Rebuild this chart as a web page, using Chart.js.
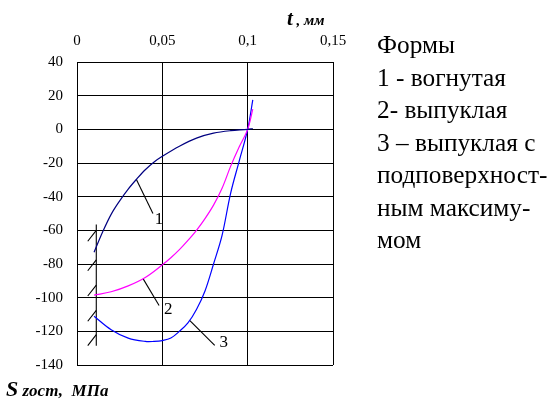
<!DOCTYPE html>
<html lang="ru">
<head>
<meta charset="utf-8">
<script src="https://cdn.jsdelivr.net/npm/chart.js@4.4.1/dist/chart.umd.min.js"></script>
<style>
  body { margin: 0; background: #fff; }
  #wrap { position: relative; width: 552px; height: 401px; font-family: "Liberation Serif", "Times New Roman", Times, serif; color: #000; }
  #chart { position: absolute; left: 0; top: 0; }
  .ttl { position: absolute; font-weight: bold; font-style: italic; white-space: nowrap; line-height: 20px; }
  #legendText { position: absolute; left: 377px; top: 28px; font-size: 25.3px; line-height: 32.5px; }
</style>
</head>
<body>
<div id="wrap">
  <canvas id="chart" width="552" height="401"></canvas>
  <div class="ttl" style="left:287px; top:8px; font-size:21px;">t<span style="font-size:15px;"> , мм</span></div>
  <div class="ttl" style="left:6px; top:379px; font-size:22px;">S<span style="font-size:17px;"> zост,&nbsp; МПа</span></div>
  <div id="legendText">
    Формы<br>
    1 - вогнутая<br>
    2- выпуклая<br>
    3 – выпуклая с<br>
    подповерхност-<br>
    ным максиму-<br>
    мом
  </div>
</div>
<script>
// ====== данные (t, мм ; S ост, МПа) ======
const xTicks = [0, 0.05, 0.1, 0.15];
const yTicks = [40, 20, 0, -20, -40, -60, -80, -100, -120, -140];

// 1 - вогнутая
const t1 = [0.01, 0.015, 0.02, 0.025, 0.03, 0.035, 0.04, 0.045, 0.05, 0.06, 0.07, 0.08, 0.09, 0.1, 0.103];
const s1 = [-73, -61, -50.5, -42.5, -35.5, -29.5, -24, -19.5, -16, -10, -5.2, -2.3, -0.8, 0, 0.5];

// 2 - выпуклая
const t2 = [0.01, 0.02, 0.03, 0.04, 0.05, 0.055, 0.06, 0.065, 0.07, 0.075, 0.08, 0.085, 0.09, 0.095, 0.1, 0.103];
const s2 = [-98.5, -96.5, -93, -88, -80.5, -76.3, -71.5, -66, -60, -53, -45, -35, -22, -10.5, 0, 12];

// 3 - выпуклая с подповерхностным максимумом
const t3 = [0.01, 0.02, 0.03, 0.04, 0.045, 0.05, 0.055, 0.06, 0.065, 0.07, 0.075, 0.08, 0.085, 0.09, 0.095, 0.1, 0.103];
const s3 = [-111, -119, -124, -126, -126, -125.5, -124, -120, -115, -107, -96, -80, -63, -38, -19, 0, 17.5];

// выноски к кривым
const leaders = [
  { label: "1", from: [0.0348, -29.8], to: [0.0445, -50], text: [0.048, -53.5] },
  { label: "2", from: [0.0387, -88.7], to: [0.0481, -104.6], text: [0.0535, -107] },
  { label: "3", from: [0.066, -113.5], to: [0.0807, -128.4], text: [0.086, -126.6] }
];

// штриховка (поверхность образца)
const wallT = 0.0113;
const wallS = [-56.5, -128.5];
const hatchT = 0.0063;
const hatchS = [-66.5, -84, -99, -114, -128.5];
const hatchRise = 6.5;

const toPts = (xs, ys) => xs.map((x, i) => ({ x: x, y: ys[i] }));

const hatchPts = [];
hatchS.forEach(s => {
  hatchPts.push({ x: hatchT, y: s }, { x: wallT, y: s + hatchRise }, { x: wallT, y: null });
});

const curve = (pts, color) => ({
  data: pts, borderColor: color, borderWidth: 1.2, showLine: true,
  pointRadius: 0, tension: 0.35, fill: false
});
const blackLine = (pts) => ({
  data: pts, borderColor: "#000", borderWidth: 1.1, showLine: true,
  pointRadius: 0, tension: 0, fill: false, spanGaps: false
});

const datasets = [
  curve(toPts(t1, s1), "#000080"),
  curve(toPts(t2, s2), "#ff00ff"),
  curve(toPts(t3, s3), "#0000ff"),
  blackLine([{ x: wallT, y: wallS[0] }, { x: wallT, y: wallS[1] }]),
  blackLine(hatchPts)
];
leaders.forEach(l => {
  datasets.push(blackLine([{ x: l.from[0], y: l.from[1] }, { x: l.to[0], y: l.to[1] }]));
});

// подписи 1, 2, 3 у выносок
const leaderLabels = {
  id: "leaderLabels",
  afterDatasetsDraw(chart) {
    const { ctx, scales } = chart;
    ctx.save();
    ctx.font = "17px 'Liberation Serif', 'Times New Roman', serif";
    ctx.fillStyle = "#000";
    ctx.textAlign = "center";
    ctx.textBaseline = "middle";
    leaders.forEach(l => {
      ctx.fillText(l.label, scales.x.getPixelForValue(l.text[0]), scales.y.getPixelForValue(l.text[1]));
    });
    ctx.restore();
  }
};

const tickFont = { family: "'Liberation Serif', 'Times New Roman', serif", size: 15 };

new Chart(document.getElementById("chart"), {
  type: "scatter",
  data: { datasets: datasets },
  options: {
    responsive: false,
    animation: false,
    layout: { padding: { left: 0, top: 0, right: 219, bottom: 36 } },
    plugins: { legend: { display: false }, tooltip: { enabled: false } },
    scales: {
      x: {
        type: "linear",
        position: "top",
        min: 0,
        max: 0.15,
        afterBuildTicks: (s) => { s.ticks = xTicks.map(v => ({ value: v })); },
        afterFit: (s) => { s.height = 62; },
        ticks: {
          color: "#000",
          font: tickFont,
          padding: 12,
          maxRotation: 0,
          callback: (v) => String(v).replace(".", ",")
        },
        grid: { color: "#000", lineWidth: 1, drawTicks: false },
        border: { color: "#000", width: 1 }
      },
      y: {
        type: "linear",
        min: -140,
        max: 40,
        afterBuildTicks: (s) => { s.ticks = yTicks.map(v => ({ value: v })); },
        afterFit: (s) => { s.width = 77; },
        ticks: { color: "#000", font: tickFont, padding: 14 },
        grid: { color: "#000", lineWidth: 1, drawTicks: false },
        border: { color: "#000", width: 1 }
      }
    }
  },
  plugins: [leaderLabels]
});
</script>
</body>
</html>
